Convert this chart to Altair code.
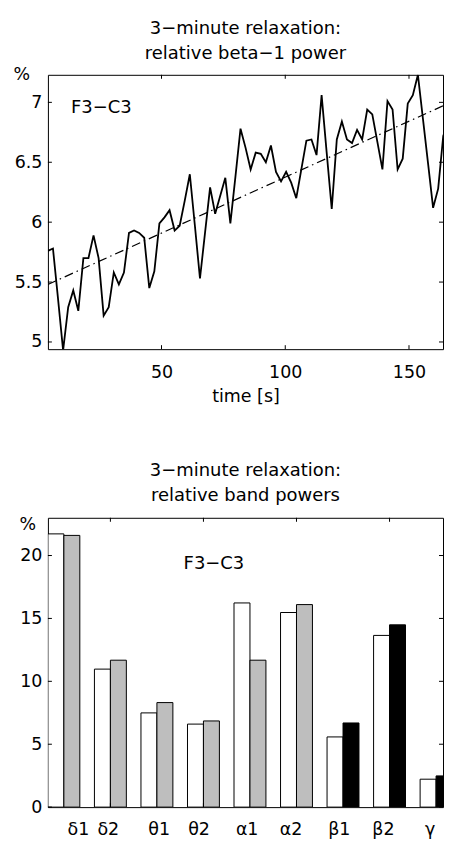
import altair as alt
import pandas as pd

FONT = "DejaVu Sans"

# ---------------- top panel data: relative beta-1 power over time ----------------
TIME_S = [4.10, 6.14, 8.19, 10.24, 12.29, 14.34, 16.38, 18.43, 20.48, 22.53,
          24.58, 26.62, 28.67, 30.72, 32.77, 34.82, 36.86, 38.91, 40.96, 43.01,
          45.06, 47.10, 49.15, 51.20, 53.25, 55.30, 57.34, 59.39, 61.44, 63.49,
          65.54, 67.58, 69.63, 71.68, 73.73, 75.78, 77.82, 79.87, 81.92, 83.97,
          86.02, 88.06, 90.11, 92.16, 94.21, 96.26, 98.30, 100.35, 102.40, 104.45,
          106.50, 108.54, 110.59, 112.64, 114.69, 116.74, 118.78, 120.83, 122.88, 124.93,
          126.98, 129.02, 131.07, 133.12, 135.17, 137.22, 139.26, 141.31, 143.36, 145.41,
          147.46, 149.50, 151.55, 153.60, 155.65, 157.70, 159.74, 161.79, 163.84, 165.89,
          167.94]
BETA1_PCT = [5.76, 5.78, 5.36, 4.93, 5.29, 5.43, 5.26, 5.70, 5.70, 5.89,
             5.70, 5.22, 5.29, 5.58, 5.48, 5.58, 5.91, 5.93, 5.91, 5.87,
             5.45, 5.59, 5.99, 6.04, 6.10, 5.93, 5.97, 6.18, 6.40, 5.97,
             5.53, 5.91, 6.29, 6.07, 6.22, 6.37, 5.99, 6.38, 6.78, 6.62,
             6.44, 6.58, 6.57, 6.50, 6.64, 6.42, 6.34, 6.42, 6.33, 6.20,
             6.44, 6.68, 6.69, 6.56, 7.06, 6.58, 6.11, 6.69, 6.84, 6.69,
             6.66, 6.77, 6.69, 6.94, 6.90, 6.67, 6.44, 7.01, 6.94, 6.44,
             6.53, 6.99, 7.06, 7.23, 6.86, 6.49, 6.12, 6.28, 6.72, 6.84,
             6.76]
TREND_TIME = [4.096, 167.936]
TREND_PCT = [5.48, 7.01]
TOP_X_DOMAIN = [4.096, 163.74]
TOP_Y_DOMAIN = [4.94, 7.23]
TOP_X_TICKS = [50, 100, 150]
TOP_Y_TICKS = [5, 5.5, 6, 6.5, 7]
TOP_NOTE = {"t": 13.4, "p": 6.956, "text": "F3−C3"}

# ---------------- bottom panel data: relative band powers ----------------
BANDS = ["δ1", "δ2", "θ1", "θ2", "α1", "α2", "β1", "β2", "γ"]
BAND_POS = [1, 2, 3, 4, 5, 6, 7, 8, 9]
POWER_WHITE = [21.72, 10.97, 7.49, 6.60, 16.23, 15.47, 5.58, 13.65, 2.22]
POWER_FILLED = [21.60, 11.68, 8.31, 6.85, 11.68, 16.10, 6.69, 14.49, 2.48]
FILLED_KIND = ["gray", "gray", "gray", "gray", "gray", "gray", "black", "black", "black"]
BAND_LABEL_X = [1.311, 1.954, 3.048, 3.906, 4.94, 5.885, 6.919, 7.869, 8.871]
BOT_X_DOMAIN = [0.657, 9.149]
BOT_Y_DOMAIN = [0, 23]
BOT_X_TICKS = [2, 4, 6, 8]
BOT_Y_TICKS = [0, 5, 10, 15, 20]
BOT_NOTE = {"x": 3.573, "v": 19.32, "text": "F3−C3"}

# ---------------- layout ----------------
W = 396
H1 = 275
H2 = 290
TICK = 4
BAR_W = 0.343
FS = 17.5

# ---------------- top panel ----------------
txs = alt.Scale(domain=TOP_X_DOMAIN, nice=False, zero=False)
tys = alt.Scale(domain=TOP_Y_DOMAIN, nice=False, zero=False)
tx_axis = alt.Axis(values=TOP_X_TICKS, title="time [s]", ticks=False, tickSize=0,
                   domain=False, grid=False, labelPadding=14, titlePadding=7)
ty_axis = alt.Axis(values=TOP_Y_TICKS, format="~g", title="%", titleAngle=0,
                   titleAlign="left", titleBaseline="middle", titleX=-35, titleY=0,
                   ticks=False, tickSize=0, domain=False, grid=False, labelPadding=6)


def inward_ticks(xticks, yticks, xscale, yscale, xaxis, yaxis, w, h):
    xdf = pd.DataFrame({"v": xticks})
    ydf = pd.DataFrame({"v": yticks})
    base = dict(color="black", strokeWidth=1)
    left = alt.Chart(ydf).mark_rule(**base).encode(
        y=alt.Y("v:Q", scale=yscale, axis=yaxis), x=alt.value(0), x2=alt.value(TICK))
    right = alt.Chart(ydf).mark_rule(**base).encode(
        y=alt.Y("v:Q", scale=yscale, axis=yaxis), x=alt.value(w - TICK), x2=alt.value(w))
    bottom = alt.Chart(xdf).mark_rule(**base).encode(
        x=alt.X("v:Q", scale=xscale, axis=xaxis), y=alt.value(h - TICK), y2=alt.value(h))
    top = alt.Chart(xdf).mark_rule(**base).encode(
        x=alt.X("v:Q", scale=xscale, axis=xaxis), y=alt.value(0), y2=alt.value(TICK))
    return [left, right, bottom, top]


line = alt.Chart(pd.DataFrame({"t": TIME_S, "p": BETA1_PCT})).mark_line(
    color="black", strokeWidth=1.8, clip=True
).encode(
    x=alt.X("t:Q", scale=txs, axis=tx_axis),
    y=alt.Y("p:Q", scale=tys, axis=ty_axis),
)
trend = alt.Chart(pd.DataFrame({"t": TREND_TIME, "p": TREND_PCT})).mark_line(
    color="black", strokeWidth=1.2, strokeDash=[9, 4, 1.5, 4], clip=True
).encode(
    x=alt.X("t:Q", scale=txs, axis=tx_axis),
    y=alt.Y("p:Q", scale=tys, axis=ty_axis),
)
top_note = alt.Chart(pd.DataFrame([TOP_NOTE])).mark_text(
    align="left", baseline="middle", font=FONT, fontSize=18, color="black"
).encode(
    x=alt.X("t:Q", scale=txs, axis=tx_axis),
    y=alt.Y("p:Q", scale=tys, axis=ty_axis),
    text="text:N",
)
top_chart = alt.layer(
    line, trend, top_note,
    *inward_ticks(TOP_X_TICKS, TOP_Y_TICKS, txs, tys, tx_axis, ty_axis, W, H1)
).properties(
    width=W, height=H1,
    title=alt.TitleParams(["3−minute relaxation:", "relative beta−1 power"],
                          font=FONT, fontSize=18, fontWeight="normal", lineHeight=25,
                          anchor="middle", frame="group", offset=3, color="black"),
)

# ---------------- bottom panel ----------------
bxs = alt.Scale(domain=BOT_X_DOMAIN, nice=False, zero=False)
bys = alt.Scale(domain=BOT_Y_DOMAIN, nice=False, zero=True)
bx_axis = alt.Axis(values=BOT_X_TICKS, labels=False, title=None, ticks=False,
                   tickSize=0, domain=False, grid=False)
by_axis = alt.Axis(values=BOT_Y_TICKS, format="~g", title="%", titleAngle=0,
                   titleAlign="left", titleBaseline="middle", titleX=-29, titleY=7,
                   ticks=False, tickSize=0, domain=False, grid=False, labelPadding=6)

rows = []
for pos, a, b, k in zip(BAND_POS, POWER_WHITE, POWER_FILLED, FILLED_KIND):
    rows.append({"x0": pos - BAR_W, "x1": pos, "v": a, "kind": "white"})
    rows.append({"x0": pos, "x1": pos + BAR_W, "v": b, "kind": k})
bars_df = pd.DataFrame(rows)

bars = alt.Chart(bars_df).mark_rect(stroke="black", strokeWidth=1, clip=True).encode(
    x=alt.X("x0:Q", scale=bxs, axis=bx_axis),
    x2="x1:Q",
    y=alt.Y("v:Q", scale=bys, axis=by_axis),
    y2=alt.datum(0),
    fill=alt.Fill("kind:N", scale=alt.Scale(domain=["white", "gray", "black"],
                                             range=["white", "#bebebe", "black"]),
                  legend=None),
)
band_labels = alt.Chart(pd.DataFrame({"lx": BAND_LABEL_X, "band": BANDS})).mark_text(
    align="center", baseline="alphabetic", font=FONT, fontSize=FS, color="black"
).encode(
    x=alt.X("lx:Q", scale=bxs, axis=bx_axis),
    y=alt.value(H2 + 28),
    text="band:N",
)
bot_note = alt.Chart(pd.DataFrame([BOT_NOTE])).mark_text(
    align="left", baseline="middle", font=FONT, fontSize=18, color="black"
).encode(
    x=alt.X("x:Q", scale=bxs, axis=bx_axis),
    y=alt.Y("v:Q", scale=bys, axis=by_axis),
    text="text:N",
)
bot_chart = alt.layer(
    bars, band_labels, bot_note,
    *inward_ticks(BOT_X_TICKS, BOT_Y_TICKS, bxs, bys, bx_axis, by_axis, W, H2)
).properties(
    width=W, height=H2,
    title=alt.TitleParams(["3−minute relaxation:", "relative band powers"],
                          font=FONT, fontSize=18, fontWeight="normal", lineHeight=25,
                          anchor="middle", frame="group", offset=10.5, color="black"),
)

chart = alt.vconcat(top_chart, bot_chart, spacing=56).properties(
    padding={"left": 4, "top": 10, "right": 0, "bottom": 0},
    background="white",
).configure_view(
    stroke="black", strokeWidth=1
).configure_axis(
    labelFont=FONT, labelFontSize=FS, labelColor="black",
    titleFont=FONT, titleFontSize=FS, titleFontWeight="normal", titleColor="black",
)

chart.save("out.html", embed_options={"renderer": "svg", "actions": False})
